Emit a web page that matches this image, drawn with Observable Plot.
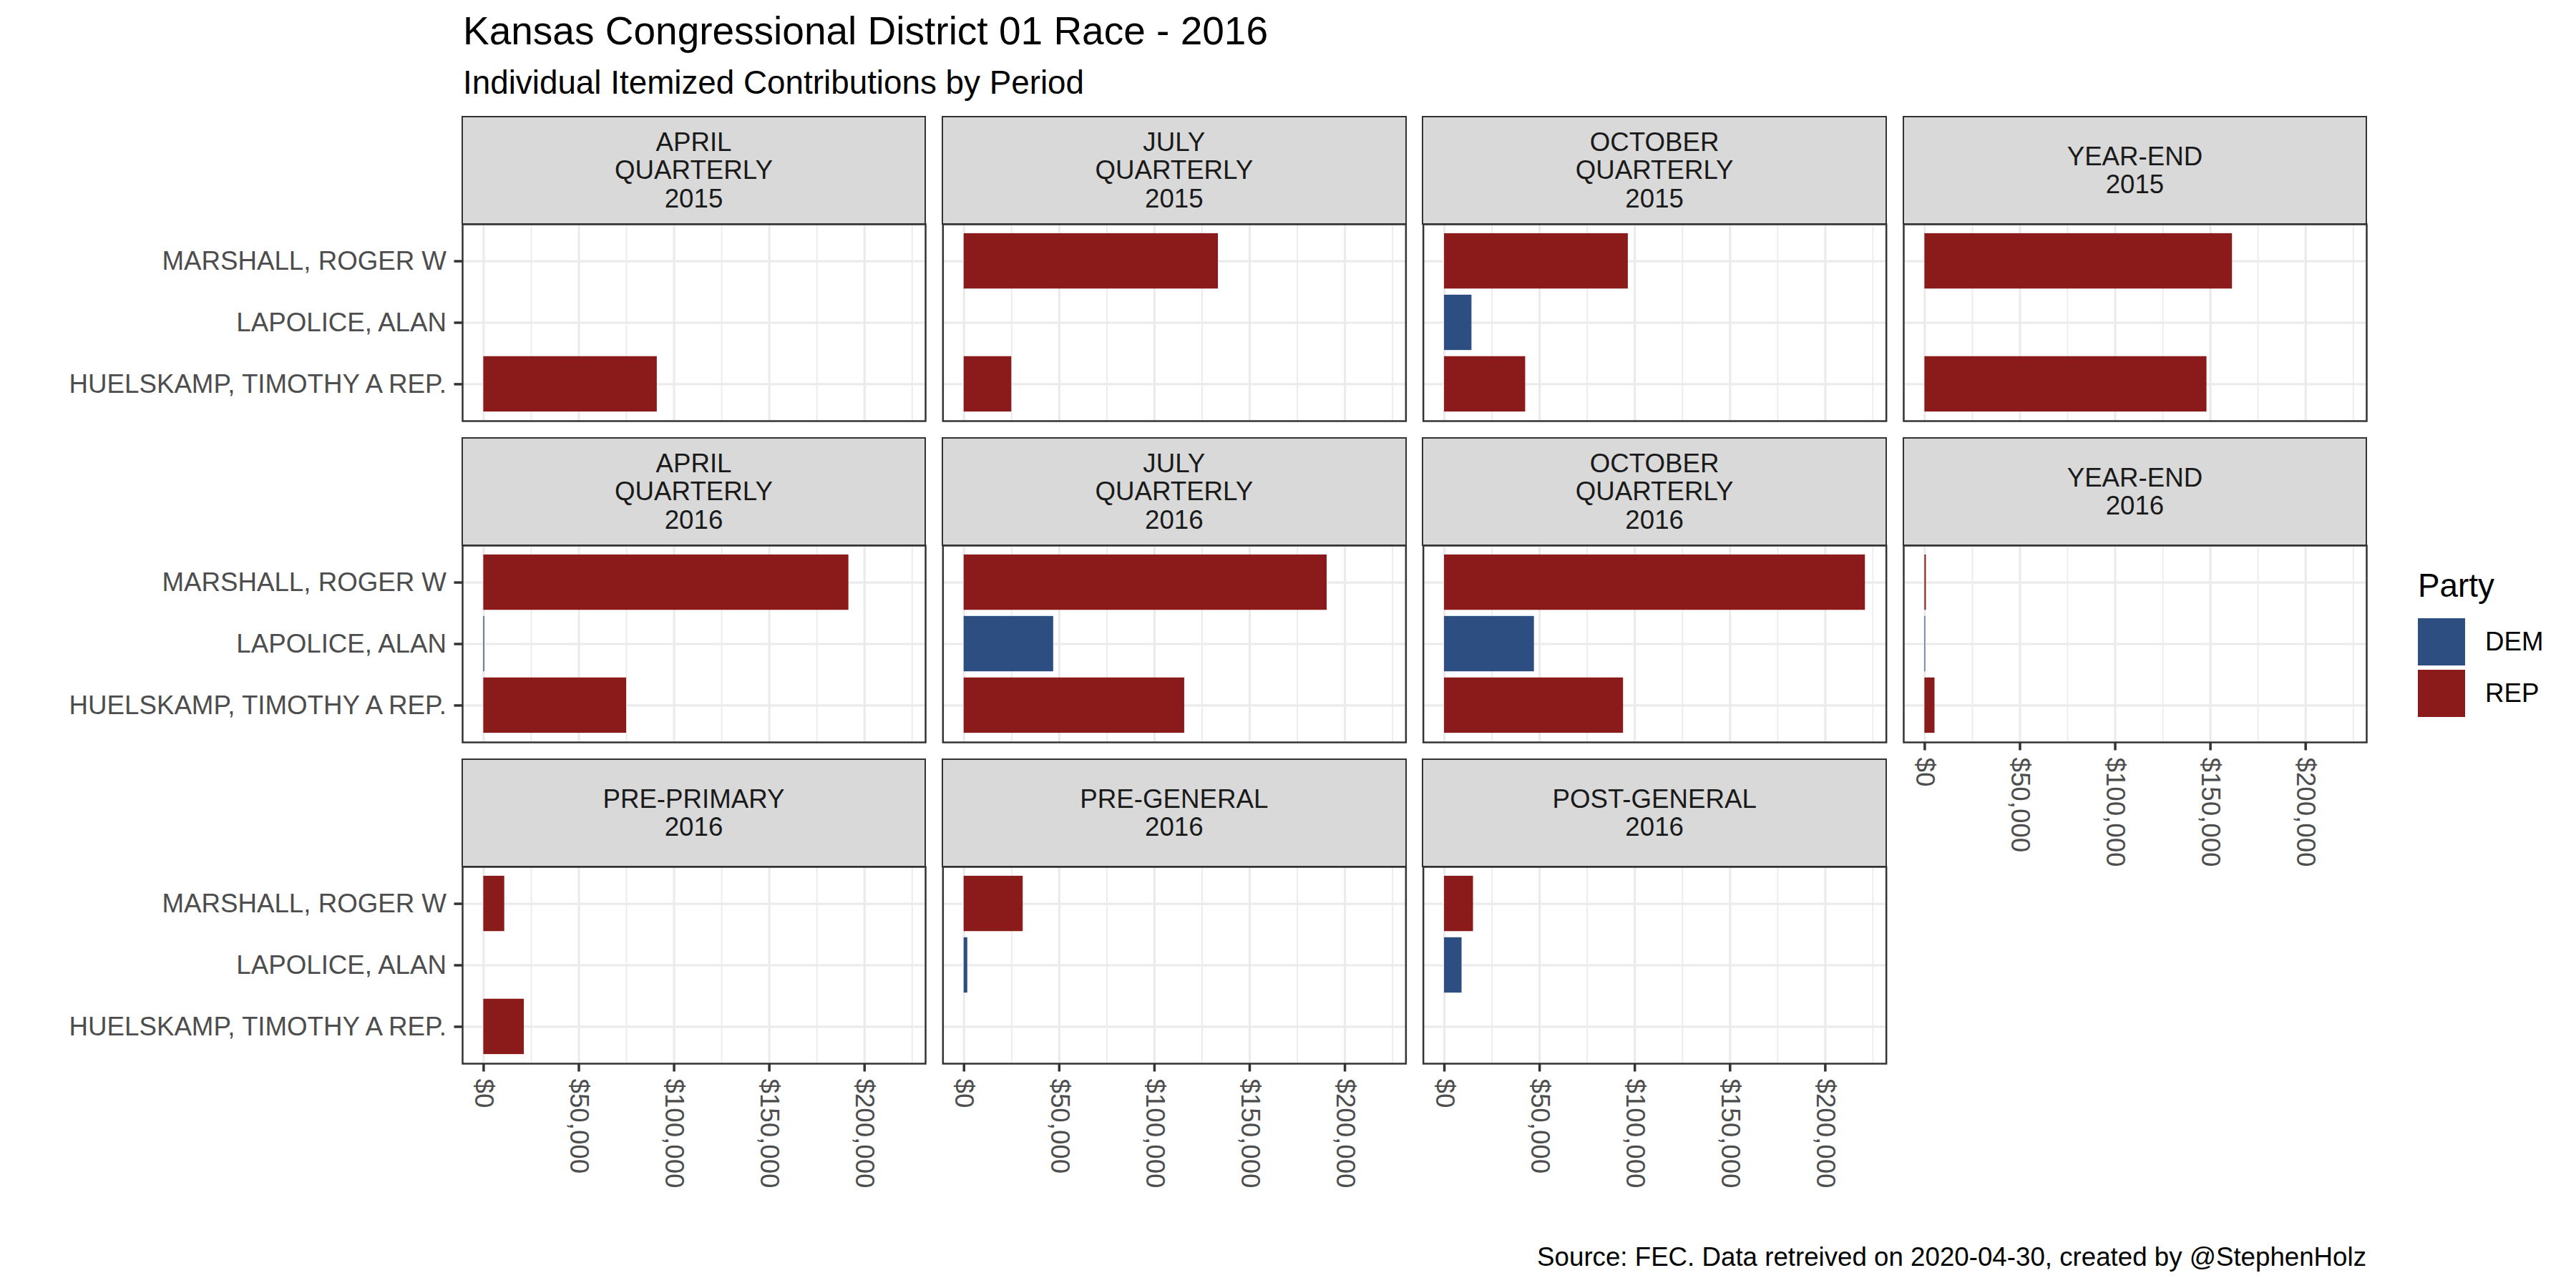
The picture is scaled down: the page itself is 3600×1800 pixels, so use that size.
<!DOCTYPE html>
<html>
<head>
<meta charset="utf-8">
<script src="https://cdn.jsdelivr.net/npm/d3@7"></script>
<script src="https://cdn.jsdelivr.net/npm/@observablehq/plot@0.6"></script>
<style>
  html, body { margin: 0; padding: 0; background: #fff; }
  #wrap { position: relative; width: 3600px; height: 1800px; background: #fff; overflow: hidden;
          font-family: "Liberation Sans", Arial, sans-serif; }
  #wrap svg { position: absolute; left: 0; top: 0; z-index: 1; }
  .txt { position: absolute; white-space: nowrap; z-index: 2; line-height: 1; }
  .strip { position: absolute; box-sizing: border-box; background: #D9D9D9; border: 2.5px solid #333333;
           display: flex; align-items: center; justify-content: center; text-align: center;
           white-space: pre-line; font-size: 36.7px; line-height: 39.5px; color: #1A1A1A; z-index: 2; }
  .key { position: absolute; z-index: 2; }
</style>
</head>
<body>
<div id="wrap"></div>
<script>
// ---------------- data ----------------
const periods = [
  "APRIL\nQUARTERLY\n2015", "JULY\nQUARTERLY\n2015", "OCTOBER\nQUARTERLY\n2015", "YEAR-END\n2015",
  "APRIL\nQUARTERLY\n2016", "JULY\nQUARTERLY\n2016", "OCTOBER\nQUARTERLY\n2016", "YEAR-END\n2016",
  "PRE-PRIMARY\n2016", "PRE-GENERAL\n2016", "POST-GENERAL\n2016"
];
const candidates = ["MARSHALL, ROGER W", "LAPOLICE, ALAN", "HUELSKAMP, TIMOTHY A REP."];
const candidateParty = ["REP", "DEM", "REP"];
const marshall  = [null, 133500, 96500, 161500, 191700, 190600, 221000, 750, 11000, 31000, 15200];
const lapolice  = [null, null, 14400, null, 500, 47000, 47200, 400, null, 1900, 9200];
const huelskamp = [91100, 25000, 42600, 148100, 75000, 115800, 94000, 5300, 21300, null, null];
const parties = ["DEM", "REP"];
const majorBreaks = [0, 50000, 100000, 150000, 200000];
const minorBreaks = [25000, 75000, 125000, 175000, 225000];
const xDomain = [-11050, 232050];
const nCols = 4;

const title = "Kansas Congressional District 01 Race - 2016";
const subtitle = "Individual Itemized Contributions by Period";
const caption = "Source: FEC. Data retreived on 2020-04-30, created by @StephenHolz";
const legendTitle = "Party";

// ---------------- table ----------------
const series = [marshall, lapolice, huelskamp];
const rows = [];
periods.forEach((p, i) => {
  candidates.forEach((c, j) => {
    const v = series[j][i];
    if (v != null) rows.push({period: p, col: i % nCols, row: Math.floor(i / nCols), candidate: c, party: candidateParty[j], amount: v});
  });
});

// ---------------- layout ----------------
const W = 3600, H = 1800;
const mLeft = 646, mRight = 293, mTop = 313, mBottom = 314;
const panelW = 647, colStep = 671.3, panelH = 275, rowStep = 449, stripH = 150;
const smallFont = 36.7, baseFont = 45.8, titleFont = 55;

const wrap = document.getElementById("wrap");

const chart = Plot.plot({
  width: W, height: H,
  marginLeft: mLeft, marginRight: mRight, marginTop: mTop, marginBottom: mBottom,
  style: {fontFamily: "Liberation Sans, Arial, sans-serif", background: "transparent", overflow: "visible"},
  fx: {domain: d3.range(nCols), axis: null, paddingInner: (colStep - panelW) / colStep, paddingOuter: 0, round: false},
  fy: {domain: [0, 1, 2], axis: null, paddingInner: (rowStep - panelH) / rowStep, paddingOuter: 0, round: false},
  x: {domain: xDomain, round: false},
  y: {domain: candidates, paddingInner: 0.1, paddingOuter: 0.15, round: false},
  color: {domain: parties, range: ["#2C4E80", "#8B1A1A"]},
  marks: [
    Plot.ruleX(minorBreaks, {stroke: "#EBEBEB", strokeWidth: 1.8}),
    Plot.ruleX(majorBreaks, {stroke: "#EBEBEB", strokeWidth: 3.2}),
    Plot.gridY({stroke: "#EBEBEB", strokeOpacity: 1, strokeWidth: 3.2}),
    Plot.barX(rows, {x: "amount", y: "candidate", fx: "col", fy: "row", fill: "party"}),
    Plot.frame({stroke: "#333333", strokeWidth: 2.5}),
    Plot.axisY({tickSize: 11.5, tickPadding: 11, fontSize: smallFont, stroke: "#333333", strokeWidth: 3.5, fill: "#4D4D4D", label: null}),
    Plot.axisX({ticks: majorBreaks, tickFormat: d3.format("$,"), tickRotate: 90, tickSize: 11.5, tickPadding: 9.5,
                fontSize: smallFont, stroke: "#333333", strokeWidth: 3.5, fill: "#4D4D4D", label: null})
  ]
});
wrap.appendChild(chart);

// ---------------- strips (from the facet scales) ----------------
let fxS = null, fyS = null;
try { fxS = chart.scale("fx"); fyS = chart.scale("fy"); } catch (e) {}
periods.forEach((p, i) => {
  const c = i % nCols, r = Math.floor(i / nCols);
  const left = fxS ? fxS.apply(c) : mLeft + c * colStep;
  const bw = fxS && fxS.bandwidth ? fxS.bandwidth : panelW;
  const ptop = fyS ? fyS.apply(r) : mTop + r * rowStep;
  const d = document.createElement("div");
  d.className = "strip";
  d.style.left = (left - 1.25) + "px";
  d.style.top = (ptop - stripH - 1.25) + "px";
  d.style.width = (bw + 2.5) + "px";
  d.style.height = (stripH + 2.5) + "px";
  d.textContent = p;
  wrap.appendChild(d);
});

// ---------------- texts ----------------
function addText(str, opts) {
  const d = document.createElement("div");
  d.className = "txt";
  d.textContent = str;
  d.style.fontSize = opts.fs + "px";
  d.style.color = opts.color || "#000";
  d.style.top = (opts.baseline - 0.8465 * opts.fs) + "px";
  if (opts.right != null) { d.style.right = opts.right + "px"; } else { d.style.left = opts.left + "px"; }
  wrap.appendChild(d);
  return d;
}
addText(title, {fs: titleFont, left: 647, baseline: 63});
addText(subtitle, {fs: baseFont, left: 647, baseline: 132});
addText(caption, {fs: smallFont, right: W - 3307, baseline: 1770});

// ---------------- legend ----------------
const colorScale = chart.scale("color");
addText(legendTitle, {fs: baseFont, left: 3379, baseline: 835});
parties.forEach((p, k) => {
  const top = 864 + k * 72;
  const key = document.createElement("div");
  key.className = "key";
  key.style.left = "3379px"; key.style.top = top + "px";
  key.style.width = "66px"; key.style.height = "66px";
  key.style.background = colorScale.apply(p);
  wrap.appendChild(key);
  addText(p, {fs: smallFont, left: 3473, baseline: top + 33 + 13.1});
});
</script>
</body>
</html>
